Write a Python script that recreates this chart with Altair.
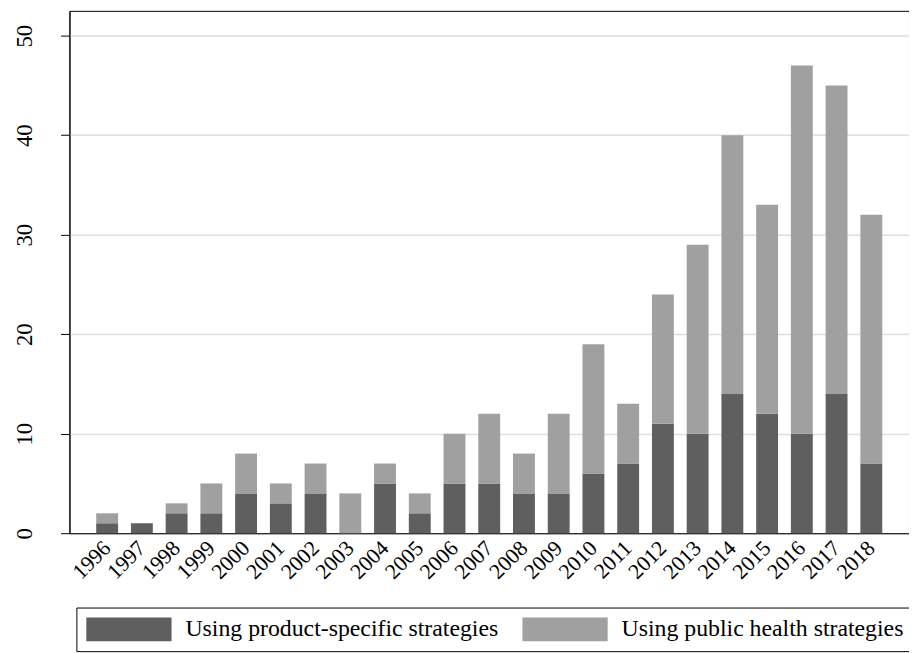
import altair as alt
import pandas as pd

years = [str(y) for y in range(1996, 2019)]
product_specific = [1, 1, 2, 2, 4, 3, 4, 0, 5, 2, 5, 5, 4, 4, 6, 7, 11, 10, 14, 12, 10, 14, 7]
public_health = [1, 0, 1, 3, 4, 2, 3, 4, 2, 2, 5, 7, 4, 8, 13, 6, 13, 19, 26, 21, 37, 31, 25]
series = ["Using product-specific strategies", "Using public health strategies"]
colors = ["#5f5f5f", "#a0a0a0"]
y_ticks = [0, 10, 20, 30, 40, 50]

rows = []
for i, y in enumerate(years):
    rows.append({"year": y, "series": series[0], "value": product_specific[i], "ord": 0})
    rows.append({"year": y, "series": series[1], "value": public_health[i], "ord": 1})
df = pd.DataFrame(rows)

FONT = "Liberation Serif"

chart = alt.Chart(df).mark_bar().encode(
    x=alt.X(
        "year:N",
        sort=years,
        scale=alt.Scale(paddingInner=0.37, paddingOuter=0.77),
        axis=alt.Axis(
            title=None, labelAngle=-45, labelAlign="right", labelBaseline="middle",
            ticks=False, domainColor="black",
            labelFont=FONT, labelFontSize=22, labelColor="black", labelPadding=11,
            grid=False,
        ),
    ),
    y=alt.Y(
        "value:Q",
        stack="zero",
        scale=alt.Scale(domain=[0, 52.5], nice=False),
        axis=alt.Axis(
            title=None, values=y_ticks, labelAngle=-90, labelAlign="center",
            labelBaseline="bottom", labelPadding=24, tickSize=9, tickColor="black",
            domainColor="black", labelFont=FONT, labelFontSize=23, labelColor="black",
            gridColor="#dedede", gridWidth=1.5,
        ),
    ),
    color=alt.Color(
        "series:N",
        scale=alt.Scale(domain=series, range=colors),
        legend=alt.Legend(
            title=None, orient="none", legendX=7, legendY=602, direction="horizontal",
            columns=2, symbolType="M-1,-1H6.167V1H-1Z", symbolSize=576,
            symbolStrokeWidth=0, labelFont=FONT, labelFontSize=24, labelColor="black",
            labelOffset=76, columnPadding=24, padding=10, strokeColor="black",
            fillColor="white", labelLimit=500, symbolOpacity=1,
        ),
    ),
    order=alt.Order("ord:Q", sort="ascending"),
).properties(
    width=847,
    height=527,
    autosize="none",
    padding={"left": 62, "top": 0, "right": 0, "bottom": 118},
).configure_view(
    stroke="black", strokeWidth=1
)

chart.save("out.html", embed_options={"renderer": "svg", "actions": False})
